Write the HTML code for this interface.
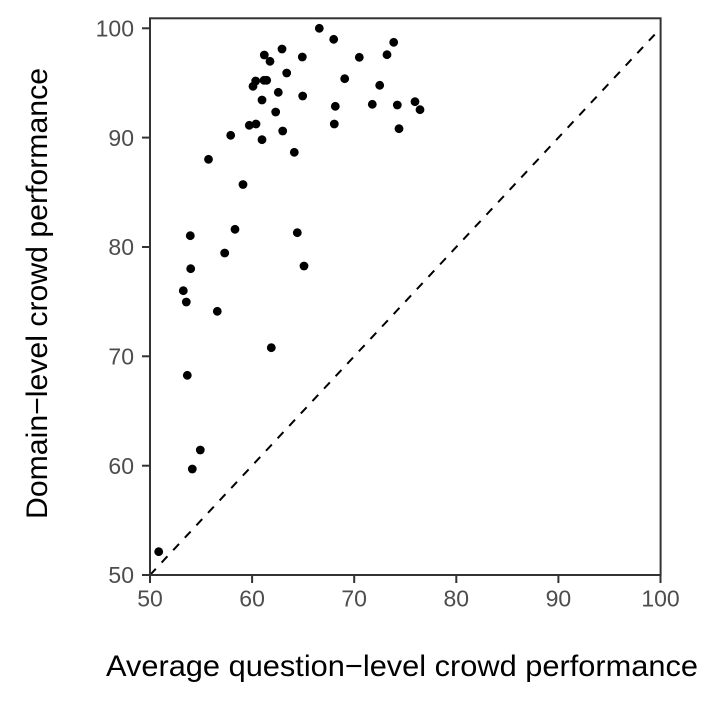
<!DOCTYPE html>
<html>
<head>
<meta charset="utf-8">
<style>
  html, body { margin: 0; padding: 0; background: #ffffff; }
  svg { display: block; font-family: "Liberation Sans", Arial, sans-serif; }
</style>
</head>
<body>
<svg width="725" height="702" viewBox="0 0 725 702" xmlns="http://www.w3.org/2000/svg">
  <rect x="0" y="0" width="725" height="702" fill="#ffffff"/>

  <line x1="150" y1="575" x2="660.5" y2="28.3" stroke="#000" stroke-width="2" stroke-dasharray="8.5 8.5"/>

  <g fill="#000">
    <circle cx="319.3" cy="28.3" r="4.4"/>
    <circle cx="333.7" cy="39.3" r="4.4"/>
    <circle cx="282" cy="49" r="4.4"/>
    <circle cx="264.3" cy="55" r="4.4"/>
    <circle cx="270" cy="61.3" r="4.4"/>
    <circle cx="302.3" cy="57" r="4.4"/>
    <circle cx="286.7" cy="73" r="4.4"/>
    <circle cx="344.7" cy="78.7" r="4.4"/>
    <circle cx="255.7" cy="81" r="4.4"/>
    <circle cx="253" cy="86.3" r="4.4"/>
    <circle cx="264" cy="80.3" r="4.4"/>
    <circle cx="266.7" cy="80.3" r="4.4"/>
    <circle cx="278.3" cy="92.3" r="4.4"/>
    <circle cx="302.7" cy="96" r="4.4"/>
    <circle cx="262" cy="100" r="4.4"/>
    <circle cx="335.3" cy="106.3" r="4.4"/>
    <circle cx="275.7" cy="112" r="4.4"/>
    <circle cx="249.3" cy="125.3" r="4.4"/>
    <circle cx="256" cy="124" r="4.4"/>
    <circle cx="334.3" cy="124" r="4.4"/>
    <circle cx="230.7" cy="135.3" r="4.4"/>
    <circle cx="262" cy="139.7" r="4.4"/>
    <circle cx="282.7" cy="131" r="4.4"/>
    <circle cx="294.3" cy="152.3" r="4.4"/>
    <circle cx="208.5" cy="159.3" r="4.4"/>
    <circle cx="243" cy="184.5" r="4.4"/>
    <circle cx="393.7" cy="42.3" r="4.4"/>
    <circle cx="359.3" cy="57.3" r="4.4"/>
    <circle cx="387" cy="54.7" r="4.4"/>
    <circle cx="379.7" cy="85.3" r="4.4"/>
    <circle cx="372.3" cy="104.3" r="4.4"/>
    <circle cx="397.3" cy="105" r="4.4"/>
    <circle cx="415" cy="101.7" r="4.4"/>
    <circle cx="420" cy="109.7" r="4.4"/>
    <circle cx="399" cy="128.7" r="4.4"/>
    <circle cx="190.3" cy="235.7" r="4.4"/>
    <circle cx="235" cy="229.3" r="4.4"/>
    <circle cx="297.3" cy="232.7" r="4.4"/>
    <circle cx="224.7" cy="253" r="4.4"/>
    <circle cx="190.7" cy="268.7" r="4.4"/>
    <circle cx="304" cy="266" r="4.4"/>
    <circle cx="183.3" cy="290.7" r="4.4"/>
    <circle cx="186.3" cy="302" r="4.4"/>
    <circle cx="217.3" cy="311.3" r="4.4"/>
    <circle cx="271.3" cy="347.7" r="4.4"/>
    <circle cx="187.3" cy="375.3" r="4.4"/>
    <circle cx="200.3" cy="450" r="4.4"/>
    <circle cx="192.3" cy="469" r="4.4"/>
    <circle cx="158.7" cy="551.7" r="4.4"/>
  </g>

  <rect x="150" y="18.3" width="510.6" height="556.7" fill="none" stroke="#333" stroke-width="2"/>

  <g stroke="#333" stroke-width="2">
    <line x1="142" y1="575" x2="150" y2="575"/>
    <line x1="142" y1="465.7" x2="150" y2="465.7"/>
    <line x1="142" y1="356.3" x2="150" y2="356.3"/>
    <line x1="142" y1="247" x2="150" y2="247"/>
    <line x1="142" y1="137.6" x2="150" y2="137.6"/>
    <line x1="142" y1="28.3" x2="150" y2="28.3"/>
    <line x1="150" y1="575" x2="150" y2="583"/>
    <line x1="252.1" y1="575" x2="252.1" y2="583"/>
    <line x1="354.2" y1="575" x2="354.2" y2="583"/>
    <line x1="456.3" y1="575" x2="456.3" y2="583"/>
    <line x1="558.4" y1="575" x2="558.4" y2="583"/>
    <line x1="660.5" y1="575" x2="660.5" y2="583"/>
  </g>

  <g fill="#4D4D4D" font-size="23" text-anchor="end">
    <text x="134" y="583.2">50</text>
    <text x="134" y="473.9">60</text>
    <text x="134" y="364.5">70</text>
    <text x="134" y="255.2">80</text>
    <text x="134" y="145.8">90</text>
    <text x="134" y="36.5">100</text>
  </g>
  <g fill="#4D4D4D" font-size="23" text-anchor="middle">
    <text x="150" y="606.7">50</text>
    <text x="252.1" y="606.7">60</text>
    <text x="354.2" y="606.7">70</text>
    <text x="456.3" y="606.7">80</text>
    <text x="558.4" y="606.7">90</text>
    <text x="660.5" y="606.7">100</text>
  </g>

  <text x="106" y="676" font-size="30" fill="#000" textLength="592" lengthAdjust="spacingAndGlyphs">Average question−level crowd performance</text>
  <text transform="translate(47,519) rotate(-90)" x="0" y="0" font-size="30" fill="#000" textLength="451" lengthAdjust="spacingAndGlyphs">Domain−level crowd performance</text>
</svg>
</body>
</html>
